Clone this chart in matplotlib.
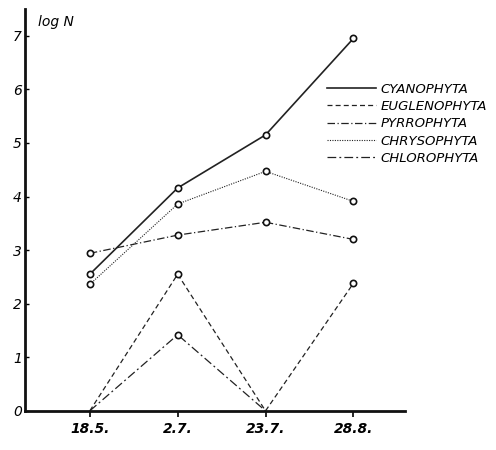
import matplotlib
matplotlib.use("Agg")
import matplotlib.pyplot as plt
import numpy as np

dates = ["18.5.", "2.7.", "23.7.", "28.8."]
y_ticks = [0, 1, 2, 3, 4, 5, 6, 7]

cyanophyta = [2.55, 4.16, 5.15, 6.95]
euglenophyta = [0.0, 2.55, 0.0, 2.38]
pyrrophyta = [2.94, 3.28, 3.52, 3.2]
chrysophyta = [2.36, 3.86, 4.47, 3.91]
chlorophyta = [0.0, 1.42, 0.0]

fig = plt.figure(figsize=(4.96, 4.5), dpi=100)
ax = fig.add_axes([0.05, 0.087, 0.767, 0.893])

x = np.arange(len(dates))
col = "#222222"
mk = dict(marker="o", markersize=4.5, markerfacecolor="white", markeredgecolor="#111111",
          markeredgewidth=1.2, ls="none", zorder=5)

l1, = ax.plot(x, cyanophyta, color=col, lw=1.2, ls="-")
l2, = ax.plot(x, euglenophyta, color=col, lw=0.9, ls=(0, (4, 2.5)))
l3, = ax.plot(x, pyrrophyta, color=col, lw=0.9, ls=(0, (6, 2, 1, 2)))
l4, = ax.plot(x, chrysophyta, color=col, lw=0.8, ls=(0, (1, 1.2)))
l5, = ax.plot(x[:3], chlorophyta, color=col, lw=0.9, ls=(0, (7, 2.5, 1.5, 2.5)))

ax.plot(x, cyanophyta, **mk)
ax.plot(x, pyrrophyta, **mk)
ax.plot(x, chrysophyta, **mk)
ax.plot([x[1], x[3]], [euglenophyta[1], euglenophyta[3]], **mk)
ax.plot([x[1]], [chlorophyta[1]], **mk)

ax.set_xlim(-0.74, 3.59)
ax.set_ylim(0, 7.5)
ax.set_xticks(x)
ax.set_xticklabels(dates, fontsize=10, style="italic", fontweight="bold")
ax.set_yticks(y_ticks)
ax.set_yticklabels([str(v) for v in y_ticks], fontsize=10, style="italic")
ax.tick_params(axis="x", direction="out", length=4, width=1.2, pad=4)
ax.tick_params(axis="y", direction="in", length=3, width=1.0, pad=2)
for s in ["top", "right"]:
    ax.spines[s].set_visible(False)
for s in ["left", "bottom"]:
    ax.spines[s].set_linewidth(2.0)
    ax.spines[s].set_color("#111111")

ax.text(0.035, 0.985, "log N", transform=ax.transAxes, fontsize=10,
        style="italic", ha="left", va="top")

leg = ax.legend([l1, l2, l3, l4, l5],
                ["CYANOPHYTA", "EUGLENOPHYTA", "PYRROPHYTA", "CHRYSOPHYTA", "CHLOROPHYTA"],
                loc="upper left", bbox_to_anchor=(0.78, 0.83), frameon=False,
                handlelength=3.7, handletextpad=0.4, labelspacing=0.33,
                prop=dict(size=9.5, style="italic"), borderaxespad=0)

fig.savefig("out.png", dpi=100, facecolor="white")
